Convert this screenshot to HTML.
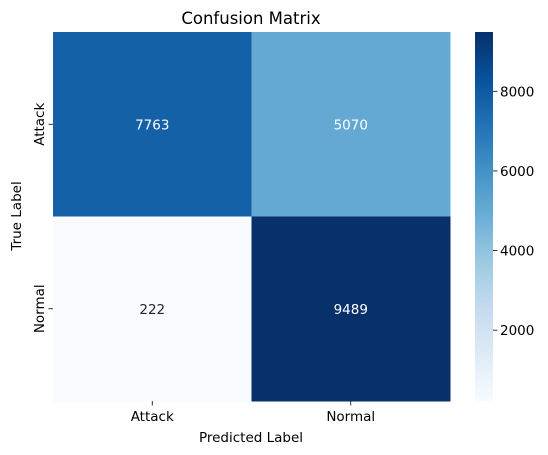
<!DOCTYPE html>
<html><head><meta charset="utf-8"><style>
body{margin:0;background:#fff;}
svg{display:block;font-family:"DejaVu Sans","Liberation Sans",sans-serif;}
</style></head><body>
<svg id="chart" width="548" height="455" viewBox="0 0 548 455" xmlns="http://www.w3.org/2000/svg">
<defs>
<linearGradient id="blues" x1="0" y1="1" x2="0" y2="0">
<stop offset="0" stop-color="#f7fbff"/><stop offset="0.125" stop-color="#deebf7"/><stop offset="0.25" stop-color="#c6dbef"/><stop offset="0.375" stop-color="#9ecae1"/><stop offset="0.5" stop-color="#6baed6"/><stop offset="0.625" stop-color="#4292c6"/><stop offset="0.75" stop-color="#2171b5"/><stop offset="0.875" stop-color="#08519c"/><stop offset="1" stop-color="#08306b"/>
</linearGradient>
</defs>
<text x="251" y="24" text-anchor="middle" font-size="16.5">Confusion Matrix</text>
<g id="cells"></g>
<g id="axes"></g>
<rect x="475" y="32" width="18" height="369" fill="url(#blues)"/>
<g id="cbticks"></g>
<text x="251" y="442" text-anchor="middle" font-size="13.5">Predicted Label</text>
<text transform="translate(21,216) rotate(-90)" text-anchor="middle" font-size="13.5">True Label</text>
</svg>
<script>
const rowLabels=["Attack","Normal"];
const colLabels=["Attack","Normal"];
const row0=[7763,5070];
const row1=[222,9489];
const cbTicks=[2000,4000,6000,8000];
const values=[row0,row1];
const stops=["#f7fbff","#deebf7","#c6dbef","#9ecae1","#6baed6","#4292c6","#2171b5","#08519c","#08306b"];
const NS="http://www.w3.org/2000/svg";
const L=53,R=450,T=32,B=401;
const all=values.flat();const vmin=Math.min(...all),vmax=Math.max(...all);
const cw=(R-L)/colLabels.length,ch=(B-T)/rowLabels.length;
function hex(h){return [1,3,5].map(i=>parseInt(h.substr(i,2),16));}
function cmap(v){let t=(v-vmin)/(vmax-vmin);t=Math.max(0,Math.min(1,t));const p=t*8;const i=Math.min(7,Math.floor(p));const f=p-i;const a=hex(stops[i]),b=hex(stops[i+1]);return a.map((c,k)=>Math.round(c+(b[k]-c)*f));}
function lum(c){const l=c.map(x=>{x/=255;return x<=0.03928?x/12.92:Math.pow((x+0.055)/1.055,2.4);});return 0.2126*l[0]+0.7152*l[1]+0.0722*l[2];}
function el(tag,attrs,parent){const e=document.createElementNS(NS,tag);for(const k in attrs)e.setAttribute(k,attrs[k]);parent.appendChild(e);return e;}
const cells=document.getElementById('cells'),axes=document.getElementById('axes'),cb=document.getElementById('cbticks');
values.forEach((row,r)=>row.forEach((v,c)=>{
const col=cmap(v);
const rc=el('rect',{x:L+c*cw,y:T+r*ch,width:cw+0.5,height:ch+0.5,fill:`rgb(${col.join(',')})`},cells);


const tx=el('text',{x:L+(c+0.5)*cw,y:T+(r+0.5)*ch+5,'text-anchor':'middle','font-size':'13.5',fill:lum(col)>0.408?'#262626':'#ffffff'},cells);
tx.textContent=v;


}));
colLabels.forEach((lab,c)=>{const x=L+(c+0.5)*cw;
el('line',{x1:x,x2:x,y1:B,y2:B+4.5,stroke:'#000','stroke-width':0.8},axes);
const t=el('text',{x:x,y:B+20,'text-anchor':'middle','font-size':'13.5'},axes);t.textContent=lab;

});
rowLabels.forEach((lab,r)=>{const y=T+(r+0.5)*ch;
el('line',{x1:L-4.5,x2:L,y1:y,y2:y,stroke:'#000','stroke-width':0.8},axes);
const t=el('text',{transform:`translate(${L-9},${y}) rotate(-90)`,'text-anchor':'middle','font-size':'13.5'},axes);t.textContent=lab;

});
cbTicks.forEach(v=>{const y=B-(v-vmin)/(vmax-vmin)*(B-T);
el('line',{x1:493,x2:497.5,y1:y,y2:y,stroke:'#000','stroke-width':0.8},cb);
const t=el('text',{x:500,y:y+5,'font-size':'13.5'},cb);t.textContent=v;

});
</script>
</body></html>
